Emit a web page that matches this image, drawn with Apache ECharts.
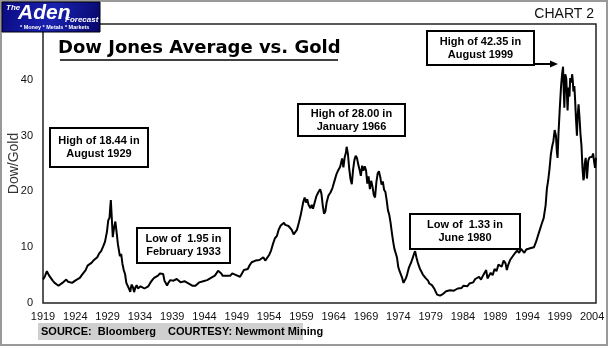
<!DOCTYPE html>
<html>
<head>
<meta charset="utf-8">
<script src="https://cdn.jsdelivr.net/npm/echarts@6/dist/echarts.min.js"></script>
<style>
html,body{margin:0;padding:0;background:#fff;}
#chart{width:610px;height:348px;}
</style>
</head>
<body>
<div id="chart"></div>
<script>
// ---- data (decimal year, Dow/Gold ratio) ----
const BASE_YEAR = 1919;
const years = [
1919.0,1919.3,1919.6,1919.9,1920.2,1920.5,1920.8,1921.1,1921.4,1921.7,1922.0,1922.3,1922.6,1922.9,1923.2,1923.5,1923.8,1924.1,1924.4,1924.7,
1925.0,1925.3,1925.6,1925.9,1926.2,1926.5,1926.8,1927.1,1927.4,1927.7,1928.0,1928.3,1928.6,1928.9,1929.1,1929.3,1929.4,1929.5,1929.65,1929.8,
1930.0,1930.2,1930.4,1930.6,1930.9,1931.1,1931.3,1931.5,1931.7,1931.9,1932.1,1932.3,1932.5,1932.7,1932.9,1933.1,1933.3,1933.5,1933.7,1933.9,
1934.1,1934.4,1934.7,1935.0,1935.3,1935.6,1935.9,1936.2,1936.5,1936.8,1937.1,1937.3,1937.6,1937.8,1938.0,1938.2,1938.4,1938.7,1938.9,1939.2,
1939.4,1939.7,1940.0,1940.3,1940.6,1940.9,1941.2,1941.5,1941.8,1942.1,1942.3,1942.6,1942.9,1943.2,1943.5,1943.8,1944.1,1944.4,1944.7,1945.0,
1945.3,1945.6,1945.9,1946.1,1946.3,1946.6,1946.8,1947.1,1947.4,1947.7,1948.0,1948.3,1948.6,1948.9,1949.2,1949.5,1949.8,1950.1,1950.4,1950.7,
1951.0,1951.3,1951.6,1951.9,1952.2,1952.5,1952.8,1953.1,1953.4,1953.7,1954.0,1954.3,1954.6,1954.9,1955.2,1955.5,1955.8,1956.1,1956.3,1956.5,
1956.8,1957.0,1957.3,1957.5,1957.8,1958.0,1958.3,1958.6,1958.9,1959.1,1959.3,1959.5,1959.7,1959.9,1960.1,1960.4,1960.6,1960.8,1961.0,1961.3,
1961.6,1961.9,1962.1,1962.3,1962.5,1962.7,1962.9,1963.2,1963.5,1963.8,1964.1,1964.4,1964.7,1965.0,1965.3,1965.5,1965.7,1965.9,1966.0,1966.2,
1966.4,1966.6,1966.8,1967.0,1967.2,1967.4,1967.6,1967.8,1968.0,1968.2,1968.4,1968.6,1968.8,1969.0,1969.2,1969.4,1969.6,1969.8,1970.0,1970.2,
1970.4,1970.6,1970.8,1971.0,1971.2,1971.4,1971.6,1971.8,1972.0,1972.2,1972.4,1972.6,1972.8,1973.0,1973.2,1973.4,1973.6,1973.8,1974.0,1974.2,
1974.4,1974.6,1974.8,1975.0,1975.2,1975.4,1975.6,1975.8,1976.0,1976.2,1976.4,1976.6,1976.8,1977.0,1977.2,1977.4,1977.6,1977.8,1978.0,1978.2,
1978.4,1978.6,1978.8,1979.0,1979.2,1979.4,1979.6,1979.8,1980.0,1980.2,1980.45,1980.7,1980.9,1981.1,1981.4,1981.7,1982.0,1982.3,1982.6,1982.9,
1983.2,1983.5,1983.8,1984.1,1984.4,1984.7,1985.0,1985.3,1985.6,1985.9,1986.2,1986.5,1986.8,1987.1,1987.4,1987.6,1987.8,1988.0,1988.3,1988.6,
1988.9,1989.2,1989.5,1989.8,1990.0,1990.3,1990.6,1990.8,1991.0,1991.3,1991.6,1991.9,1992.1,1992.4,1992.7,1993.0,1993.2,1993.5,1993.8,1994.1,
1994.4,1994.7,1995.0,1995.3,1995.6,1995.9,1996.2,1996.5,1996.8,1997.0,1997.2,1997.4,1997.6,1997.8,1998.0,1998.2,1998.4,1998.55,1998.65,1998.8,
1999.0,1999.2,1999.35,1999.5,1999.6,1999.7,1999.85,2000.0,2000.1,2000.2,2000.35,2000.5,2000.6,2000.8,2000.9,2001.0,2001.1,2001.25,2001.35,2001.5,
2001.65,2001.75,2001.9,2002.05,2002.2,2002.35,2002.5,2002.65,2002.75,2002.85,2003.0,2003.1,2003.2,2003.4,2003.6,2003.8,2004.0,2004.15,2004.3,2004.45,
2004.6
];
const dowGold = [
4.2,4.8,5.7,5.0,4.5,4.0,3.6,3.4,3.1,3.3,3.6,3.9,4.2,3.8,4.0,3.6,3.7,4.1,3.9,4.5,
5.0,5.3,5.9,6.7,6.4,7.2,7.6,7.3,8.2,8.9,9.3,10.1,11.0,12.8,14.8,15.3,17.0,18.44,15.2,11.8,
13.5,14.6,12.6,10.5,8.4,8.8,7.0,5.9,5.2,3.6,3.5,2.6,2.0,3.3,2.9,1.95,2.8,3.2,2.6,2.7,
3.0,2.7,2.6,2.9,3.0,3.6,4.1,4.5,4.6,4.9,5.3,5.0,5.2,4.0,3.6,3.1,3.6,4.1,4.3,4.0,
3.8,4.3,4.3,3.7,3.6,3.9,3.6,3.5,3.4,3.1,2.8,3.1,3.3,3.7,4.0,3.9,3.9,4.1,4.2,4.5,
4.7,4.9,5.4,5.8,5.9,5.3,4.9,5.0,4.9,5.1,4.9,5.3,5.1,5.0,4.9,4.7,5.3,5.9,6.2,6.1,
6.8,7.3,7.2,7.6,7.5,7.7,7.9,8.2,7.6,7.8,8.6,9.4,10.6,11.6,12.0,13.2,13.9,13.7,14.4,14.0,
14.3,13.8,14.1,13.1,12.3,12.5,13.1,14.4,15.8,17.0,18.2,18.9,18.0,18.6,17.6,17.0,17.6,16.9,17.8,19.1,
19.8,20.4,19.6,17.5,16.0,16.4,18.0,19.3,19.8,20.6,21.8,23.0,23.8,24.4,25.9,24.3,26.1,27.0,28.0,26.7,
24.1,22.2,21.3,23.9,25.6,26.4,26.0,24.8,23.9,22.8,24.6,23.7,24.5,23.8,21.4,22.7,20.4,21.9,20.9,19.4,
18.9,21.6,23.2,23.6,22.6,21.2,21.8,20.3,19.9,18.4,16.6,15.8,14.4,12.6,11.0,9.7,8.9,8.1,6.4,5.7,
5.1,4.5,3.6,3.5,4.5,5.3,6.2,6.8,7.3,8.0,8.7,9.3,8.2,7.3,6.6,6.0,5.7,5.1,4.8,4.5,
4.3,4.0,3.5,3.6,3.2,3.0,2.5,2.0,1.5,1.7,1.33,1.4,1.6,1.9,2.1,2.2,2.3,2.4,2.2,2.4,
2.6,2.8,2.7,3.1,3.3,3.0,3.5,3.8,3.7,4.3,4.0,4.7,4.2,4.9,5.5,5.9,4.4,4.6,5.4,5.0,
6.1,5.7,6.9,7.0,6.5,7.6,7.1,5.9,6.8,7.7,8.2,8.4,9.0,9.4,9.0,9.7,9.4,9.0,9.6,9.3,
9.8,9.5,10.0,10.9,12.0,13.1,14.2,15.2,17.5,20.5,22.0,24.0,26.5,28.0,29.0,31.0,30.0,27.0,26.0,30.5,
35.0,39.0,41.0,42.35,38.2,35.0,41.0,40.2,37.5,34.5,38.6,37.0,40.3,39.5,41.0,40.0,37.9,38.9,36.8,33.0,
30.0,33.3,35.6,33.2,30.2,28.2,24.3,22.0,22.5,24.9,26.0,24.6,22.3,25.5,26.1,25.8,26.2,26.8,25.4,24.2,
26.0
];
const yTicks = [0, 10, 20, 30, 40];
const annotations = [
  ['High of 18.44 in', 'August 1929'],
  ['Low of  1.95 in', 'February 1933'],
  ['High of 28.00 in', 'January 1966'],
  ['Low of  1.33 in', 'June 1980'],
  ['High of 42.35 in', 'August 1999']
];
const titleText = 'Dow Jones Average vs. Gold';
const chartLabel = 'CHART 2';
const yName = 'Dow/Gold';
const sourceText = 'SOURCE:  Bloomberg    COURTESY: Newmont Mining';

// ---- build ----
const seriesData = years.map((y, i) => [y - BASE_YEAR, dowGold[i]]);
const chart = echarts.init(document.getElementById('chart'), null, {renderer: 'canvas'});

const F = '"Liberation Sans", Arial, sans-serif';
function annBox(x, y, w, h, lines) {
  return {
    type: 'group', left: x, top: y, z: 50,
    children: [
      {type: 'rect', shape: {x: 0, y: 0, width: w, height: h},
       style: {fill: '#fff', stroke: '#000', lineWidth: 2}},
      {type: 'text', style: {x: w / 2, y: h / 2, text: lines.join('\n'), align: 'center',
        verticalAlign: 'middle', font: 'bold 11px ' + F, fill: '#000', lineHeight: 13}}
    ]
  };
}

const option = {
  animation: false,
  backgroundColor: '#fff',
  grid: {left: 43, right: 14, top: 24, bottom: 45, show: true, borderColor: '#222', borderWidth: 1.5,
         backgroundColor: 'transparent', containLabel: false, outerBoundsMode: 'none'},
  xAxis: {
    type: 'value', min: 0, max: 85.6, interval: 5,
    axisLine: {show: false}, axisTick: {show: false}, splitLine: {show: false},
    axisLabel: {
      margin: 8, color: '#111', fontFamily: F, fontSize: 11, hideOverlap: false,
      formatter: v => (Math.abs(v % 5) < 1e-6 ? String(BASE_YEAR + v) : '')
    }
  },
  yAxis: {
    type: 'value', min: 0, max: 50, interval: 10,
    name: yName, nameLocation: 'middle', nameGap: 22, nameRotate: 90, nameMoveOverlap: false,
    nameTextStyle: {fontFamily: F, fontSize: 14, color: '#333'},
    axisLine: {show: false}, axisTick: {show: false}, splitLine: {show: false},
    axisLabel: {
      margin: 10, color: '#111', fontFamily: F, fontSize: 11,
      formatter: v => (yTicks.indexOf(v) >= 0 ? String(v) : '')
    }
  },
  series: [{
    type: 'line', data: seriesData, symbol: 'none', smooth: false,
    lineStyle: {color: '#000', width: 2}, z: 10
  }],
  graphic: [
    // outer border
    {type: 'rect', shape: {x: 1, y: 1, width: 606, height: 344}, style: {fill: 'none', stroke: '#999', lineWidth: 2}, z: 1},
    // logo
    {type: 'rect', shape: {x: 2, y: 2, width: 98, height: 30}, z: 60,
     style: {fill: new echarts.graphic.LinearGradient(0, 0, 1, 1, [
       {offset: 0, color: '#0a0a80'}, {offset: 0.5, color: '#1a22b0'}, {offset: 1, color: '#06066a'}]),
       stroke: '#000', lineWidth: 1}},
    {type: 'text', z: 61, style: {x: 6, y: 4, text: 'The', font: 'italic bold 8px ' + F, fill: '#fff'}},
    {type: 'text', z: 61, style: {x: 18, y: 3, text: 'Aden', font: 'italic bold 21px ' + F, fill: '#fff'}},
    {type: 'text', z: 61, style: {x: 65, y: 16, text: 'Forecast', font: 'italic bold 8px ' + F, fill: '#fff'}},
    {type: 'text', z: 61, style: {x: 20, y: 24, text: '* Money * Metals * Markets', font: 'bold 5.5px ' + F, fill: '#fff'}},
    // chart label
    {type: 'text', z: 40, style: {x: 594, y: 7, text: chartLabel, align: 'right', font: '14px ' + F, fill: '#111'}},
    // title
    {type: 'text', z: 40, style: {x: 58, y: 39, text: titleText, font: 'bold 18px "DejaVu Sans", Verdana, sans-serif', fill: '#000'}},
    {type: 'line', z: 40, shape: {x1: 60, y1: 60, x2: 338, y2: 60}, style: {stroke: '#000', lineWidth: 1.5}},
    // annotations
    annBox(49, 127, 98, 39, annotations[0]),
    annBox(136, 227, 93, 35, annotations[1]),
    annBox(297, 103, 107, 32, annotations[2]),
    annBox(409, 213, 110, 35, annotations[3]),
    annBox(426, 30, 107, 34, annotations[4]),
    // arrow
    {type: 'line', z: 51, shape: {x1: 533, y1: 64, x2: 552, y2: 64}, style: {stroke: '#000', lineWidth: 2}},
    {type: 'polygon', z: 51, shape: {points: [[550, 60.5], [558, 64], [550, 67.5]]}, style: {fill: '#000'}},
    // source
    {type: 'rect', z: 40, shape: {x: 38, y: 323, width: 265, height: 17}, style: {fill: '#cfcfcf'}},
    {type: 'text', z: 41, style: {x: 41, y: 331.5, text: sourceText, verticalAlign: 'middle', font: 'bold 11px ' + F, fill: '#000'}}
  ]
};
chart.setOption(option);
</script>
</body>
</html>
